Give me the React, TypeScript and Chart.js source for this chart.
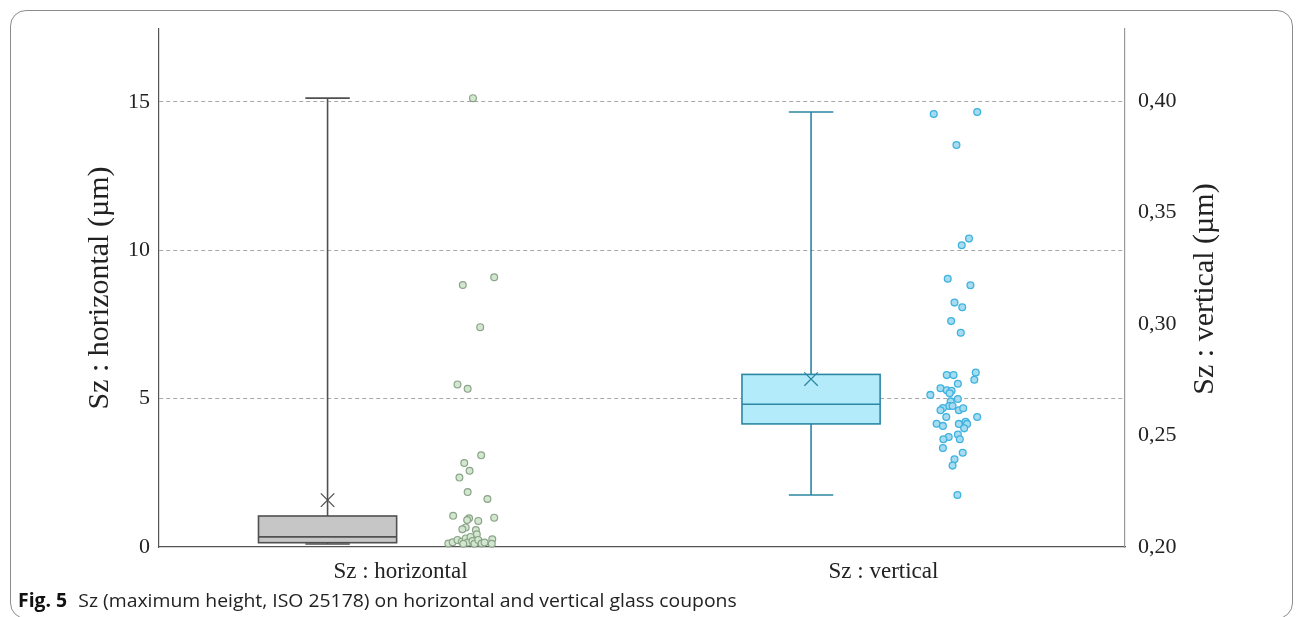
import React, { useEffect, useRef } from "react";
import { Chart, registerables } from "chart.js";

Chart.register(...registerables);

// ---------- data ----------
const categories = ["Sz : horizontal", "Sz : vertical"];
const categoryPositions = [0.5, 1.5];
const leftTicks = [0, 5, 10, 15];
const rightTicks = [0.2, 0.25, 0.3, 0.35, 0.4];
const leftTitle = "Sz : horizontal (µm)";
const rightTitle = "Sz : vertical (µm)";
const captionBold = "Fig. 5";
const captionText = "Sz (maximum height, ISO 25178) on horizontal and vertical glass coupons";

// box-plot statistics: [horizontal (left axis), vertical (right axis)]
const boxCenters = [0.349, 1.35];
const boxMin = [0.1, 0.2233];
const boxQ1 = [0.145, 0.2552];
const boxMedian = [0.34, 0.264];
const boxQ3 = [1.045, 0.2774];
const boxMax = [15.13, 0.3951];
const boxMean = [1.58, 0.2753];

// individual measurements (jittered x position, value)
const horizontalX = [
  0.65, 0.694, 0.629, 0.665, 0.618, 0.639, 0.667, 0.632, 0.643, 0.622, 0.639, 0.68,
  0.609, 0.694, 0.642, 0.638, 0.661, 0.635, 0.628, 0.656, 0.658,
  0.599, 0.608, 0.618, 0.627, 0.635, 0.639, 0.645, 0.649, 0.653, 0.661, 0.668, 0.674,
  0.69, 0.689, 0.63,
];
const horizontalY = [
  15.13, 9.09, 8.83, 7.41, 5.48, 5.33, 3.09, 2.83, 2.57, 2.34, 1.85, 1.62,
  1.05, 0.99, 0.97, 0.91, 0.88, 0.66, 0.6, 0.57, 0.43,
  0.12, 0.16, 0.24, 0.18, 0.29, 0.15, 0.34, 0.2, 0.11, 0.24, 0.12, 0.15,
  0.26, 0.11, 0.11,
];
const verticalX = [
  1.604, 1.694, 1.651, 1.677, 1.662, 1.633, 1.68, 1.647, 1.663, 1.64, 1.66,
  1.631, 1.645, 1.691, 1.688, 1.654, 1.618, 1.631, 1.641, 1.637, 1.597, 1.654,
  1.639, 1.636, 1.643, 1.623, 1.618, 1.656, 1.665, 1.63, 1.694, 1.61, 1.623,
  1.656, 1.67, 1.673, 1.667, 1.654, 1.635, 1.624, 1.658, 1.623, 1.664, 1.647,
  1.643, 1.653,
];
const verticalY = [
  0.3942, 0.3951, 0.3803, 0.3383, 0.3353, 0.3203, 0.3174, 0.3096, 0.3075, 0.3013, 0.2961,
  0.2771, 0.2771, 0.2782, 0.275, 0.2732, 0.2712, 0.2703, 0.2701, 0.2689, 0.2682, 0.2664,
  0.2653, 0.2632, 0.2632, 0.2623, 0.2613, 0.2613, 0.2622, 0.2583, 0.2583, 0.2553, 0.2543,
  0.2552, 0.2562, 0.2552, 0.2532, 0.2504, 0.2493, 0.2483, 0.2483, 0.2444, 0.2423, 0.2393,
  0.2365, 0.2233,
];

// ---------- styles ----------
const serif = '"Liberation Serif", "DejaVu Serif", serif';
const boxAxis = ["yL", "yR"];
const boxFill = ["#c6c6c6", "#b3ebfa"];
const boxStroke = ["#505050", "#2c87a4"];
const boxHalfWidth = 0.143;
const capHalfWidth = 0.046;

const boxPlugin = {
  id: "boxes",
  beforeDatasetsDraw(chart: any) {
    const ctx = chart.ctx;
    const xs = chart.scales.x;
    for (let i = 0; i < boxCenters.length; i++) {
      const ys = chart.scales[boxAxis[i]];
      const cx = xs.getPixelForValue(boxCenters[i]);
      const x0 = xs.getPixelForValue(boxCenters[i] - boxHalfWidth);
      const x1 = xs.getPixelForValue(boxCenters[i] + boxHalfWidth);
      const c0 = xs.getPixelForValue(boxCenters[i] - capHalfWidth);
      const c1 = xs.getPixelForValue(boxCenters[i] + capHalfWidth);
      const pMin = ys.getPixelForValue(boxMin[i]);
      const pQ1 = ys.getPixelForValue(boxQ1[i]);
      const pMed = ys.getPixelForValue(boxMedian[i]);
      const pQ3 = ys.getPixelForValue(boxQ3[i]);
      const pMax = ys.getPixelForValue(boxMax[i]);
      ctx.save();
      ctx.strokeStyle = boxStroke[i];
      ctx.lineWidth = 1.6;
      ctx.beginPath();
      ctx.moveTo(cx, pMax);
      ctx.lineTo(cx, pQ3);
      ctx.moveTo(cx, pQ1);
      ctx.lineTo(cx, pMin);
      ctx.moveTo(c0, pMax);
      ctx.lineTo(c1, pMax);
      ctx.moveTo(c0, pMin);
      ctx.lineTo(c1, pMin);
      ctx.stroke();
      ctx.fillStyle = boxFill[i];
      ctx.fillRect(x0, pQ3, x1 - x0, pQ1 - pQ3);
      ctx.lineWidth = 1.6;
      ctx.strokeRect(x0, pQ3, x1 - x0, pQ1 - pQ3);
      ctx.beginPath();
      ctx.moveTo(x0, pMed);
      ctx.lineTo(x1, pMed);
      ctx.stroke();
      ctx.restore();
    }
  },
};

const titlePlugin = {
  id: "axisTitles",
  afterDraw(chart: any) {
    const { ctx, chartArea } = chart;
    const cy = (chartArea.top + chartArea.bottom) / 2;
    ctx.save();
    ctx.font = `30px ${serif}`;
    ctx.fillStyle = "#222";
    ctx.textAlign = "center";
    ctx.textBaseline = "middle";
    ctx.translate(chartArea.left - 59, cy);
    ctx.rotate(-Math.PI / 2);
    ctx.fillText(leftTitle, 0, 0);
    ctx.restore();
    ctx.save();
    ctx.font = `30px ${serif}`;
    ctx.fillStyle = "#222";
    ctx.textAlign = "center";
    ctx.textBaseline = "middle";
    ctx.translate(chartArea.right + 80, cy + 1);
    ctx.rotate(-Math.PI / 2);
    ctx.fillText(rightTitle, 0, 0);
    ctx.restore();
  },
};

export default function App() {
  const canvasRef = useRef<HTMLCanvasElement | null>(null);
  const captionRef = useRef<HTMLDivElement | null>(null);

  useEffect(() => {
    document.body.style.margin = "0";
    const cap = captionRef.current;
    if (cap) {
      const w = cap.scrollWidth;
      if (w > 0) cap.style.transform = `scaleX(${719 / w})`;
    }
    const canvas = canvasRef.current;
    if (!canvas) return;
    const chart = new Chart(canvas, {
      type: "scatter",
      data: {
        datasets: [
          {
            data: horizontalX.map((x, i) => ({ x, y: horizontalY[i] })),
            yAxisID: "yL",
            pointRadius: 3.4,
            backgroundColor: "#d3e6d0",
            borderColor: "#8aa488",
            borderWidth: 1.2,
            clip: false,
          },
          {
            data: verticalX.map((x, i) => ({ x, y: verticalY[i] })),
            yAxisID: "yR",
            pointRadius: 3.4,
            backgroundColor: "#a6dbf0",
            borderColor: "#3fb3df",
            borderWidth: 1.3,
            clip: false,
          },
          {
            data: [{ x: boxCenters[0], y: boxMean[0] }],
            yAxisID: "yL",
            pointStyle: "crossRot",
            pointRadius: 9.5,
            borderColor: boxStroke[0],
            borderWidth: 1.3,
            clip: false,
          },
          {
            data: [{ x: boxCenters[1], y: boxMean[1] }],
            yAxisID: "yR",
            pointStyle: "crossRot",
            pointRadius: 9.5,
            borderColor: boxStroke[1],
            borderWidth: 1.3,
            clip: false,
          },
        ],
      },
      options: {
        responsive: false,
        animation: false,
        layout: { padding: { top: 29, left: 0, right: 0, bottom: 0 } },
        plugins: { legend: { display: false }, tooltip: { enabled: false } },
        scales: {
          x: {
            type: "linear",
            position: "bottom",
            min: 0,
            max: 2,
            afterBuildTicks: (s: any) => {
              s.ticks = categoryPositions.map((v) => ({ value: v }));
            },
            afterFit: (s: any) => {
              s.height = 70;
            },
            ticks: {
              autoSkip: false,
              maxRotation: 0,
              padding: 11,
              color: "#222",
              font: { family: serif, size: 23 },
              callback: (v: any) => {
                const i = categoryPositions.indexOf(Number(v));
                return i >= 0 ? categories[i] : "";
              },
            },
            grid: { display: false, drawTicks: false },
            border: { display: true, color: "#555", width: 1.2 },
          },
          yL: {
            type: "linear",
            position: "left",
            min: 0,
            max: 17.46,
            afterBuildTicks: (s: any) => {
              s.ticks = leftTicks.map((v) => ({ value: v }));
            },
            afterFit: (s: any) => {
              s.width = 159;
            },
            ticks: {
              padding: 9,
              color: "#222",
              font: { family: serif, size: 22 },
            },
            grid: {
              drawTicks: false,
              lineWidth: 1,
              color: (c: any) => (c.tick && c.tick.value === 0 ? "rgba(0,0,0,0)" : "#a8a8a8"),
            },
            border: { display: true, color: "#555", width: 1.2, dash: [4, 3] },
          },
          yR: {
            type: "linear",
            position: "right",
            min: 0.2,
            max: 0.4323,
            afterBuildTicks: (s: any) => {
              s.ticks = rightTicks.map((v) => ({ value: v }));
            },
            afterFit: (s: any) => {
              s.width = 171;
            },
            ticks: {
              padding: 13,
              color: "#222",
              font: { family: serif, size: 22 },
              callback: (v: any) => Number(v).toFixed(2).replace(".", ","),
            },
            grid: { display: false, drawTicks: false },
            border: { display: true, color: "#999", width: 1.2 },
          },
        },
      },
      plugins: [boxPlugin, titlePlugin],
    } as any);
    return () => chart.destroy();
  }, []);

  return (
    <div
      style={{
        position: "fixed",
        left: 0,
        top: 0,
        width: 1296,
        height: 617,
        overflow: "hidden",
        background: "#fff",
      }}
    >
      <div
        style={{
          position: "absolute",
          left: 10,
          top: 10,
          width: 1281,
          height: 607,
          border: "1px solid #8c8c8c",
          borderRadius: 16,
        }}
      />
      <canvas
        ref={canvasRef}
        width={1296}
        height={617}
        style={{ position: "absolute", left: 0, top: 0, width: 1296, height: 617 }}
      />
      <div
        ref={captionRef}
        style={{
          position: "absolute",
          left: 18,
          top: 591,
          whiteSpace: "nowrap",
          transformOrigin: "0 0",
          fontFamily: '"Open Sans", "Noto Sans", sans-serif',
          fontSize: 19,
          lineHeight: "19px",
          color: "#222",
        }}
      >
        <span style={{ fontWeight: 700, color: "#111" }}>{captionBold}</span>
        <span>{"  "}</span>
        <span style={{ marginLeft: 6 }}>{captionText}</span>
      </div>
    </div>
  );
}
